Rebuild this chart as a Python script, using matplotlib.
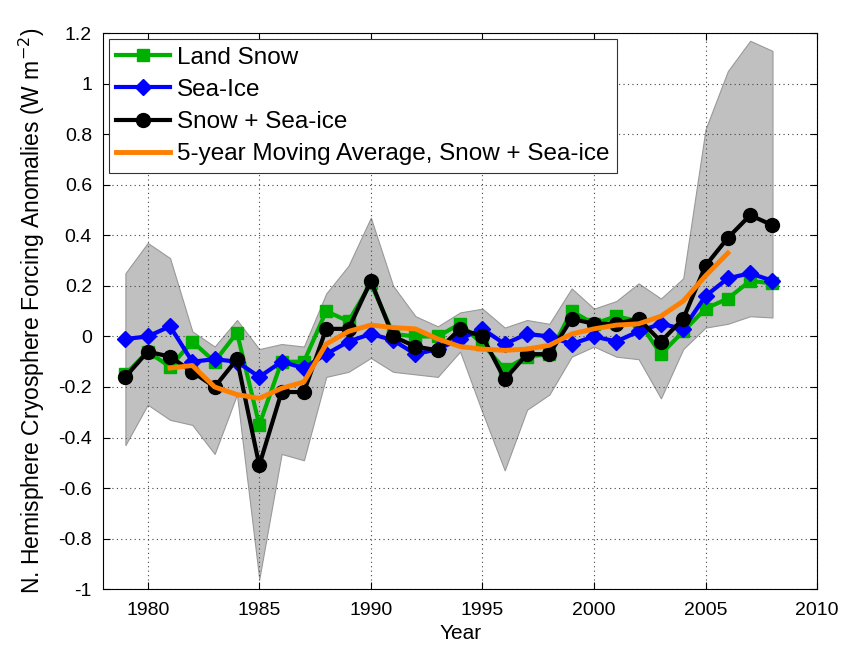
import matplotlib
matplotlib.use("Agg")
import matplotlib.pyplot as plt

plt.rcParams['font.family'] = ['Liberation Sans', 'DejaVu Sans']
plt.rcParams['axes.unicode_minus'] = False

years = list(range(1979, 2009))

land_snow = [-0.15, -0.06, -0.12, -0.02, -0.10, 0.015, -0.35, -0.10, -0.10, 0.10,
             0.06, 0.21, 0.01, 0.00, 0.00, 0.05, -0.03, -0.13, -0.08, -0.07,
             0.10, 0.05, 0.08, 0.06, -0.07, 0.02, 0.11, 0.15, 0.22, 0.21]

sea_ice = [-0.01, 0.00, 0.04, -0.10, -0.09, -0.10, -0.16, -0.10, -0.125, -0.07,
           -0.02, 0.01, -0.015, -0.07, -0.05, -0.01, 0.03, -0.03, 0.01, 0.00,
           -0.03, 0.00, -0.02, 0.02, 0.05, 0.03, 0.16, 0.23, 0.25, 0.22]

snow_ice = [-0.16, -0.06, -0.08, -0.14, -0.20, -0.09, -0.51, -0.22, -0.22, 0.03,
            0.03, 0.22, 0.00, -0.04, -0.055, 0.03, 0.00, -0.17, -0.07, -0.07,
            0.07, 0.05, 0.05, 0.07, -0.02, 0.07, 0.28, 0.39, 0.48, 0.44]

band_upper = [0.25, 0.37, 0.31, 0.02, -0.04, 0.065, -0.05, -0.03, -0.04, 0.17,
              0.28, 0.47, 0.20, 0.08, 0.04, 0.095, 0.11, 0.035, 0.065, 0.05,
              0.19, 0.11, 0.14, 0.21, 0.15, 0.23, 0.82, 1.05, 1.17, 1.13]

band_lower = [-0.43, -0.27, -0.33, -0.35, -0.465, -0.23, -0.96, -0.465, -0.49, -0.16,
              -0.14, -0.085, -0.14, -0.15, -0.16, -0.06, -0.30, -0.53, -0.29, -0.23,
              -0.08, -0.04, -0.08, -0.09, -0.245, -0.05, 0.035, 0.05, 0.08, 0.075]

ma_years = list(range(1981, 2007))
moving_avg = [-0.125, -0.115, -0.20, -0.23, -0.245, -0.205, -0.18, -0.03, 0.02, 0.045,
              0.035, 0.03, -0.01, -0.04, -0.05, -0.055, -0.05, -0.035, 0.01, 0.03,
              0.045, 0.05, 0.08, 0.14, 0.24, 0.33]

fig = plt.figure(figsize=(8.45, 6.51), dpi=100)
ax = fig.add_axes([0.122, 0.095, 0.845, 0.854])

ax.fill_between(years, band_lower, band_upper, facecolor='#c0c0c0', edgecolor='#999999', linewidth=0.8)

ax.plot(years, land_snow, color='#00b000', lw=3, marker='s', ms=8, label='Land Snow')
ax.plot(years, sea_ice, color='#0000ff', lw=3, marker='D', ms=8, label='Sea-Ice')
ax.plot(years, snow_ice, color='black', lw=3, marker='o', ms=10, label='Snow + Sea-ice')
ax.plot(ma_years, moving_avg, color='#ff7f00', lw=3.5, label='5-year Moving Average, Snow + Sea-ice')

ax.set_xlim(1978, 2010)
ax.set_ylim(-1, 1.2)
ax.set_xticks(range(1980, 2011, 5))
ax.set_yticks([-1, -0.8, -0.6, -0.4, -0.2, 0, 0.2, 0.4, 0.6, 0.8, 1, 1.2])
ax.set_yticklabels(['-1', '-0.8', '-0.6', '-0.4', '-0.2', '0', '0.2', '0.4', '0.6', '0.8', '1', '1.2'])
ax.grid(True, linestyle=(0, (1, 3)), color='#444444', linewidth=0.8)
ax.tick_params(direction='in', top=True, right=True, length=5, labelsize=14)
ax.tick_params(axis='y', pad=8)
ax.tick_params(axis='x', pad=9)

ax.set_xlabel('Year', fontsize=15, labelpad=4)
ax.set_ylabel('N. Hemisphere Cryosphere Forcing Anomalies (W m$^{-2}$)', fontsize=16.5, labelpad=8)

leg = ax.legend(loc='upper left', fontsize=17.5, handlelength=2.2, numpoints=1,
                fancybox=False, framealpha=1, borderaxespad=0.25, labelspacing=0.42,
                handletextpad=0.3, borderpad=0.3)
leg.get_frame().set_edgecolor('#333333')
leg.get_frame().set_linewidth(0.8)

plt.savefig('out.png', dpi=100)
